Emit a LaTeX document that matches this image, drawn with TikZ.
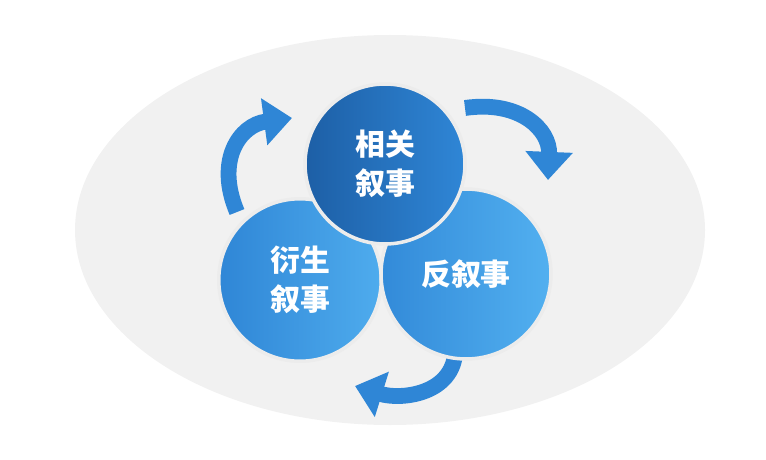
\documentclass[tikz,border=0pt]{standalone}
\usepackage{fontspec}
\newfontfamily\cjk{Noto Sans CJK SC}
\usetikzlibrary{arrows.meta}
\definecolor{bgrey}{HTML}{F1F1F1}
\definecolor{darkb}{HTML}{1D5FA6}
\definecolor{midb}{HTML}{2F86D6}
\definecolor{lightb}{HTML}{52B0F0}
\tikzset{
  ball/.style={circle, draw=white!85!gray, line width=2pt, minimum size=#1, inner sep=0pt,
    text=white, font=\cjk\bfseries\fontsize{17}{22}\selectfont, align=center},
  turn/.style={line width=9pt, midb, -{Triangle[length=16pt,width=26pt]}}
}
\begin{document}
\begin{tikzpicture}[x=0.02cm,y=-0.02cm]
\useasboundingbox (0,0) rectangle (766,459);
%backdrop
\fill[bgrey] (390,230) ellipse [x radius=315, y radius=195];
%arrows
\draw[turn] (237,212) .. controls (215,160) and (240,125) .. (292,118);
\draw[turn] (465,108) .. controls (520,100) and (550,130) .. (548,180);
\draw[turn] (455,355) .. controls (450,395) and (400,400) .. (355,386);
%circles
\node[ball=3.25cm, left color=midb, right color=lightb!90!midb] (deriv) at (300,280) {衍生\\叙事};
\node[ball=3.4cm, left color=midb!90!lightb, right color=lightb] (anti) at (466,274) {反叙事};
\node[ball=3.2cm, left color=darkb, right color=midb] (related) at (385,164) {相关\\叙事};
\end{tikzpicture}
\end{document}
